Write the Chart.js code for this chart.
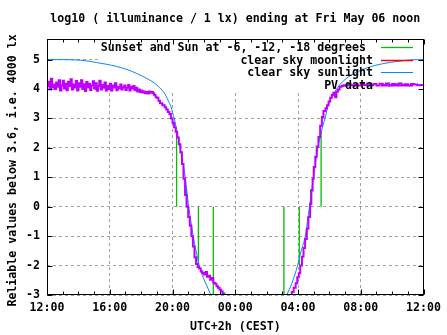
<!DOCTYPE html>
<html><head><meta charset="utf-8">
<script src="https://cdn.jsdelivr.net/npm/chart.js@4/dist/chart.umd.min.js"></script>
<style>html,body{margin:0;padding:0;background:#fff;overflow:hidden}</style>
</head><body>
<canvas id="c" width="447" height="335"></canvas>
<script>
// ---- texts ----
const titleText = "log10 ( illuminance / 1 lx) ending at Fri May 06 noon";
const xTitle = "UTC+2h (CEST)";
const yTitle = "Reliable values below 3.6, i.e. 4000 lx ";
const seriesLabels = ["Sunset and Sun at -6, -12, -18 degrees ", "clear sky moonlight", "clear sky sunlight", "PV data"];
const seriesColors = ["#00c000", "#ff0000", "#0a84ff", "#c000ff"];

// ---- x axis: hours after 12:00 of the previous day ----
const xTickHours  = [0, 4, 8, 12, 16, 20, 24];
const xTickLabels = ["12:00", "16:00", "20:00", "00:00", "04:00", "08:00", "12:00"];
const yTickValues = [-3, -2, -1, 0, 1, 2, 3, 4, 5];

// ---- sunset / twilight markers (hour, top of line) ----
const eventHours = [8.26, 8.89, 9.65, 10.60, 15.10, 16.08, 16.81, 17.47];
const eventTops  = [2.54, 0.6, -2.0, -3.5, -3.5, -2.0, 0.6, 2.54];

// ---- clear sky moonlight (below the plotted range) ----
const moonHours = [];
const moonValues = [];

// ---- clear sky sunlight ----
const sunEveHours  = [0, 1.0, 1.77, 2.5, 3.15, 3.8, 4.42, 5.05, 5.68, 6.1, 6.53, 6.85, 7.16, 7.4, 7.59, 7.75, 7.90, 8.0, 8.11, 8.3, 8.49, 8.65, 8.81, 8.92, 9.03, 9.17, 9.32, 9.5, 9.70, 9.95, 10.2, 10.44, 10.6];
const sunEveValues = [5, 5, 4.99, 4.96, 4.90, 4.84, 4.77, 4.67, 4.54, 4.43, 4.31, 4.20, 4.06, 3.92, 3.76, 3.58, 3.40, 3.20, 3.0, 2.5, 2.0, 1.5, 1.0, 0.5, 0, -0.5, -1.0, -1.5, -2.0, -2.4, -2.7, -3.0, -3.2];
const sunMornHours  = [15.1, 15.29, 15.61, 15.97, 16.2, 16.46, 16.6, 16.73, 16.86, 16.98, 17.12, 17.26, 17.51, 17.72, 17.93, 18.15, 18.36, 18.65, 18.99, 19.4, 19.84, 20.35, 20.89, 21.4, 21.95, 22.5, 23.0, 23.64, 24];
const sunMornValues = [-3.3, -3.0, -2.6, -2.0, -1.5, -1.0, -0.5, 0, 0.5, 1.0, 1.5, 2.0, 2.6, 3.0, 3.47, 3.72, 3.92, 4.14, 4.32, 4.48, 4.60, 4.71, 4.80, 4.86, 4.91, 4.95, 4.98, 5.0, 5.0];

// ---- PV data (5-minute readings in the afternoon) ----
const pvEveHours = [
  0, 0.08, 0.17, 0.25, 0.33, 0.42, 0.5, 0.58, 0.67, 0.75, 0.83, 0.92,
  1, 1.08, 1.17, 1.25, 1.33, 1.42, 1.5, 1.58, 1.67, 1.75, 1.83, 1.92,
  2, 2.08, 2.17, 2.25, 2.33, 2.42, 2.5, 2.58, 2.67, 2.75, 2.83, 2.92,
  3, 3.08, 3.17, 3.25, 3.33, 3.42, 3.5, 3.58, 3.67, 3.75, 3.83, 3.92,
  4, 4.08, 4.17, 4.25, 4.33, 4.42, 4.5, 4.58, 4.67, 4.75, 4.83, 4.92,
  5, 5.08, 5.17, 5.25, 5.33, 5.42, 5.5, 5.58, 5.67, 5.75, 5.83, 5.92,
  6, 6.08, 6.17, 6.25, 6.33, 6.42, 6.5, 6.58, 6.67, 6.75, 6.83, 6.92, 7.0,
  7.1, 7.2, 7.35, 7.5, 7.6, 7.7, 7.8, 7.9, 8.0, 8.1, 8.2, 8.3, 8.4, 8.5, 8.6, 8.7, 8.8, 8.9, 9.0, 9.1, 9.2, 9.3, 9.4, 9.5, 9.6, 9.7, 9.8, 9.9, 10.0, 10.1, 10.2, 10.3, 10.4, 10.5, 10.6, 10.7, 10.8, 10.9, 11.0, 11.1, 11.2, 11.3, 11.4];
const pvEveValues = [
  4.32, 4.10, 4.25, 3.98, 4.35, 4.05, 4.15, 4.00, 4.22, 4.08, 4.30, 3.95,
  4.12, 4.28, 4.02, 4.18, 3.96, 4.25, 4.10, 4.33, 3.98, 4.15, 4.05, 4.27,
  3.95, 4.20, 4.08, 4.30, 4.00, 4.16, 3.93, 4.24, 4.06, 4.18, 3.97, 4.12,
  4.26, 4.02, 4.20, 3.94, 4.10, 4.28, 3.98, 4.14, 4.04, 4.22, 3.95, 4.10,
  4.00, 4.18, 3.95, 4.12, 4.05, 4.20, 3.96, 4.08, 4.02, 4.15, 3.98, 4.06,
  4.12, 3.97, 4.05, 4.14, 3.95, 4.08, 4.02, 4.10, 3.96, 4.04, 3.92, 3.98,
  3.90, 3.95, 3.88, 3.92, 3.86, 3.90, 3.85, 3.92, 3.87, 3.90, 3.86, 3.80, 3.72,
  3.70, 3.60, 3.52, 3.45, 3.38, 3.30, 3.22, 3.15, 3.00, 2.85, 2.70, 2.55, 2.35, 2.12, 1.85, 1.45, 0.95, 0.40, 0.0, -0.35, -0.65, -1.0, -1.35, -1.72, -1.95, -2.05, -2.10, -2.20, -2.25, -2.30, -2.22, -2.38, -2.35, -2.48, -2.42, -2.58, -2.62, -2.70, -2.75, -2.82, -2.88, -2.95, -3.5];
const pvMornHours = [15.6, 15.72, 15.85, 15.95, 16.05, 16.14, 16.25, 16.35, 16.45, 16.56, 16.66, 16.77, 16.85, 16.93, 17.0, 17.1, 17.19, 17.3, 17.41, 17.52, 17.62, 17.75, 17.85, 17.95, 18.05, 18.15, 18.25, 18.36, 18.45, 18.55, 18.65, 18.78, 18.9, 19.05, 19.2, 19.4, 19.6, 19.8, 20.0, 20.2, 20.4, 20.6, 20.8, 21.0, 21.2, 21.4, 21.6, 21.8, 22.0, 22.2, 22.4, 22.6, 22.8, 23.0, 23.2, 23.4, 23.6, 23.8, 24];
const pvMornValues = [-3.5, -2.9, -2.75, -2.6, -2.4, -2.26, -2.0, -1.7, -1.4, -1.1, -0.75, -0.35, 0.1, 0.55, 0.95, 1.35, 1.7, 2.05, 2.37, 2.75, 3.05, 3.25, 3.35, 3.45, 3.58, 3.70, 3.80, 3.87, 3.72, 3.92, 3.98, 4.08, 4.10, 4.13, 4.12, 4.15, 4.13, 4.16, 4.12, 4.17, 4.14, 4.18, 4.13, 4.17, 4.12, 4.18, 4.14, 4.19, 4.13, 4.17, 4.15, 4.19, 4.14, 4.16, 4.13, 4.17, 4.15, 4.13, 4.14];

// ---- build point lists ----
const pts = (hs, vs) => hs.map((h, i) => ({x: h, y: vs[i]}));
const gap = h => ({x: h, y: null});
const eventData = [];
eventHours.forEach((h, i) => { eventData.push({x: h, y: 0}, {x: h, y: eventTops[i]}, gap(h)); });
const sunData = [...pts(sunEveHours, sunEveValues), gap(12.9), ...pts(sunMornHours, sunMornValues)];
const pvData = [...pts(pvEveHours, pvEveValues), gap(13), ...pts(pvMornHours, pvMornValues)];

const FONT = {family: "'DejaVu Sans Mono', 'Liberation Mono', monospace", size: 11.6, weight: 'bold', lineHeight: 1.2};
const fontStr = "bold 11.6px 'DejaVu Sans Mono', 'Liberation Mono', monospace";
const KEY = {x1: 99, y1: 40, x2: 421, y2: 92};

const framePlugin = {
  id: 'frame',
  beforeDatasetsDraw(chart) {
    const ctx = chart.ctx;
    ctx.save();
    ctx.fillStyle = '#fff';
    ctx.fillRect(KEY.x1, KEY.y1, KEY.x2 - KEY.x1, KEY.y2 - KEY.y1);
    ctx.restore();
  },
  afterDatasetsDraw(chart) {
    const ctx = chart.ctx, a = chart.chartArea;
    const xs = chart.scales.x, ys = chart.scales.y;
    ctx.save();
    ctx.strokeStyle = '#000';
    ctx.lineWidth = 1;
    const L = Math.round(a.left) + 0.5, R = Math.round(a.right) - 0.5;
    const T = Math.round(a.top) + 0.5, B = Math.round(a.bottom) - 0.5;
    ctx.beginPath();
    for (let h = 0; h <= 24; h++) {
      const px = Math.round(xs.getPixelForValue(h)) + 0.5;
      const len = (h % 4 === 0) ? 5 : 3;
      ctx.moveTo(px, B); ctx.lineTo(px, B - len);
      ctx.moveTo(px, T); ctx.lineTo(px, T + len);
    }
    yTickValues.forEach(v => {
      const py = Math.round(ys.getPixelForValue(v)) + 0.5;
      ctx.moveTo(L, py); ctx.lineTo(L + 5, py);
      ctx.moveTo(R, py); ctx.lineTo(R - 5, py);
    });
    ctx.stroke();
    ctx.strokeRect(L, T, R - L, B - T);
    // key
    ctx.font = fontStr;
    ctx.textAlign = 'right';
    ctx.textBaseline = 'middle';
    const rows = [48, 60.7, 73.3, 86];
    chart.data.datasets.forEach((ds, i) => {
      ctx.fillStyle = '#000';
      ctx.fillText(ds.label, 373, rows[i]);
      ctx.strokeStyle = ds.borderColor;
      ctx.lineWidth = ds.borderWidth;
      ctx.beginPath();
      ctx.moveTo(381, Math.round(rows[i]) - 0.5);
      ctx.lineTo(413, Math.round(rows[i]) - 0.5);
      ctx.stroke();
    });
    // title
    ctx.fillStyle = '#000';
    ctx.textAlign = 'center';
    ctx.fillText(titleText, (a.left + a.right) / 2, 18.5);
    ctx.restore();
  }
};

new Chart(document.getElementById('c'), {
  type: 'line',
  data: {
    datasets: [
      {label: seriesLabels[0], data: eventData, borderColor: seriesColors[0], borderWidth: 1.3, pointRadius: 0, order: 3},
      {label: seriesLabels[1], data: pts(moonHours, moonValues), borderColor: seriesColors[1], borderWidth: 1.5, pointRadius: 0, order: 2},
      {label: seriesLabels[2], data: sunData, borderColor: seriesColors[2], borderWidth: 1, pointRadius: 0, cubicInterpolationMode: 'monotone', order: 1},
      {label: seriesLabels[3], data: pvData, borderColor: seriesColors[3], borderWidth: 2, pointRadius: 0, stepped: 'after', order: 0}
    ]
  },
  options: {
    responsive: false,
    animation: false,
    devicePixelRatio: 1,
    events: [],
    layout: {padding: {top: 39, right: 21, left: 0, bottom: 0}},
    plugins: {legend: {display: false}, title: {display: false}, tooltip: {enabled: false}},
    scales: {
      x: {
        type: 'linear', min: 0, max: 24,
        afterFit: s => { s.height = 40; },
        grid: {color: '#a0a0a0', lineWidth: 1, drawTicks: false, tickLength: 0},
        border: {display: false, dash: [3, 3]},
        ticks: {stepSize: 4, autoSkip: false, maxRotation: 0, padding: 6, color: '#000', font: FONT,
          callback: v => { const i = xTickHours.indexOf(v); return i >= 0 ? xTickLabels[i] : ''; }},
        title: {display: true, text: xTitle, color: '#000', font: FONT, padding: {top: 0, bottom: 1.3}}
      },
      y: {
        type: 'linear', min: -3, max: 5.7,
        afterFit: s => { s.width = 47; },
        grid: {color: '#a0a0a0', lineWidth: 1, drawTicks: false, tickLength: 0},
        border: {display: false, dash: [3, 3]},
        ticks: {stepSize: 1, includeBounds: false, padding: 7, color: '#000', font: FONT},
        title: {display: true, text: yTitle, color: '#000', font: FONT, padding: {top: 6, bottom: 0}}
      }
    }
  },
  plugins: [framePlugin]
});
</script>
</body></html>
